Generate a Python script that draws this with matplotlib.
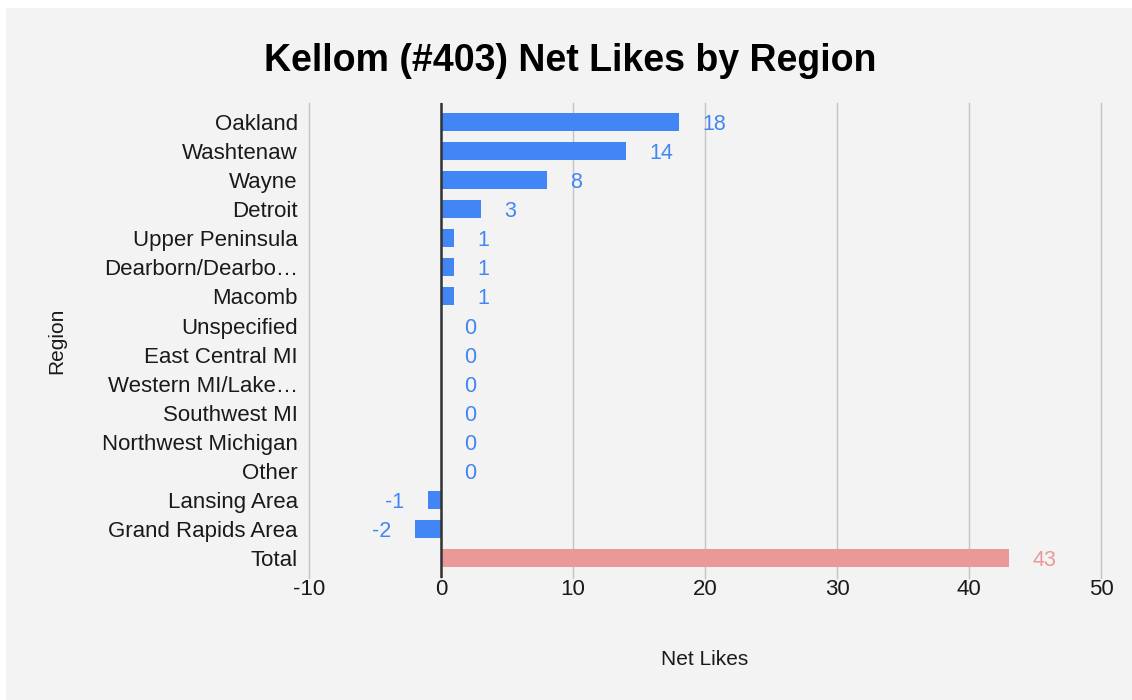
import matplotlib.pyplot as plt
from matplotlib.patches import Rectangle

regions = ['Oakland', 'Washtenaw', 'Wayne', 'Detroit', 'Upper Peninsula',
           'Dearborn/Dearbo…', 'Macomb', 'Unspecified', 'East Central MI',
           'Western MI/Lake…', 'Southwest MI', 'Northwest Michigan', 'Other',
           'Lansing Area', 'Grand Rapids Area', 'Total']
net_likes = [18, 14, 8, 3, 1, 1, 1, 0, 0, 0, 0, 0, 0, -1, -2, 43]
xticks = [-10, 0, 10, 20, 30, 40, 50]

blue = '#4285f4'
pink = '#ea9999'
bg = '#f3f3f3'

plt.rcParams['font.family'] = ['Liberation Sans', 'DejaVu Sans']
plt.rcParams['axes.unicode_minus'] = False

fig = plt.figure(figsize=(11.32, 7.0), dpi=100)
fig.patch.set_facecolor('white')
fig.patches.append(Rectangle((6 / 1132, 0), 1, 692 / 700, transform=fig.transFigure,
                             facecolor=bg, edgecolor='none', zorder=-10))

ax = fig.add_axes([309 / 1132, 1 - 578 / 700, (1101 - 309) / 1132, (578 - 103) / 700])
ax.set_facecolor(bg)
ax.patch.set_alpha(0)

ypos = list(range(len(regions)))
colors = [pink if r == 'Total' else blue for r in regions]
ax.barh(ypos, net_likes, height=0.62, color=colors, zorder=3)

for y, v, c in zip(ypos, net_likes, colors):
    if v < 0:
        ax.annotate(str(v), (v, y), xytext=(-17, 0), textcoords='offset points',
                    ha='right', va='center_baseline', fontsize=15.5, color=c)
    else:
        ax.annotate(str(v), (v, y), xytext=(17, 0), textcoords='offset points',
                    ha='left', va='center_baseline', fontsize=15.5, color=c)

ax.set_xlim(-10, 50)
ax.set_ylim(15.69, -0.66)
ax.set_xticks(xticks)
ax.set_yticks(ypos)
ax.set_yticklabels(regions)
ax.tick_params(axis='both', length=0, labelsize=16, colors='#1a1a1a')
ax.tick_params(axis='y', pad=8)
ax.tick_params(axis='x', pad=1)
ax.grid(axis='x', color='#c4c4c4', linewidth=1, zorder=0)
for gl in ax.get_xgridlines():
    gl.set_clip_on(False)
ax.axvline(0, color='#333333', linewidth=1.8, zorder=4)
for s in ax.spines.values():
    s.set_visible(False)

ax.set_xlabel('Net Likes', fontsize=15, labelpad=36, color='#1a1a1a')
ax.set_ylabel('Region', fontsize=15, labelpad=26, color='#1a1a1a')
fig.text(570 / 1132, 1 - 61 / 700, 'Kellom (#403) Net Likes by Region',
         ha='center', va='center', fontsize=27, fontweight='bold')

fig.savefig('out.png', dpi=100, facecolor=fig.get_facecolor())
